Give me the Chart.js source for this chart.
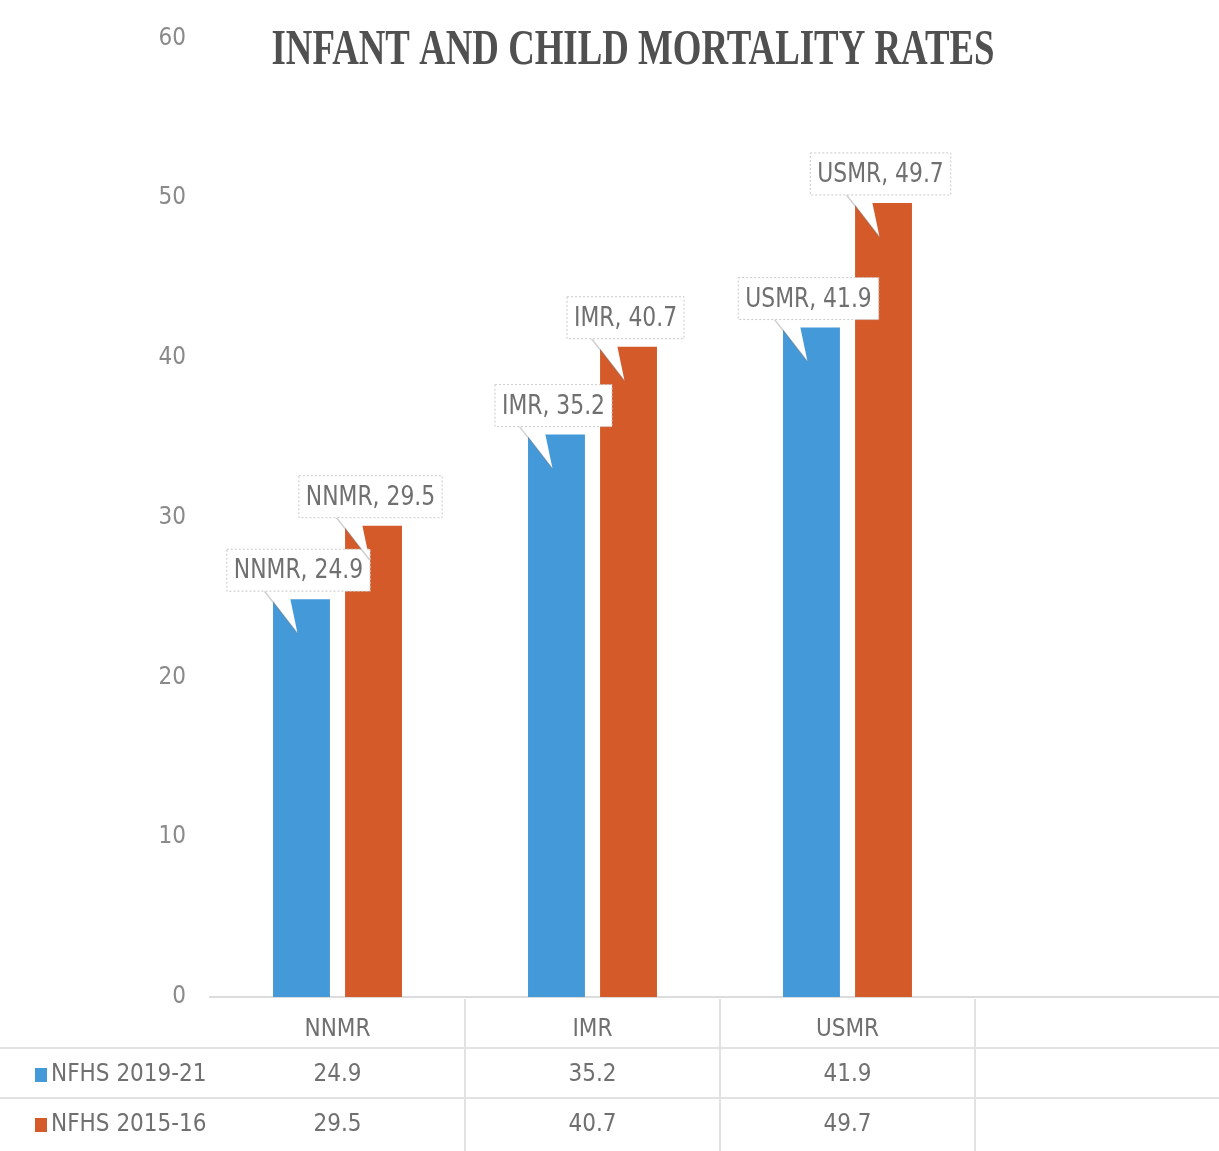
<!DOCTYPE html>
<html>
<head>
<meta charset="utf-8">
<title>Infant and Child Mortality Rates</title>
<script src="https://cdn.jsdelivr.net/npm/chart.js@4/dist/chart.umd.min.js"></script>
<style>
  html, body { margin: 0; padding: 0; background: #fff; overflow: hidden; }
  #wrap { width: 1219px; height: 1151px; overflow: hidden; position: relative; }
  #chart { display: block; }
</style>
</head>
<body>
<div id="wrap">
  <canvas id="chart" width="1232" height="1151" style="width:1232px;height:1151px"></canvas>
</div>
<script>
// data
const categories = ['NNMR', 'IMR', 'USMR', ''];
const nfhs2019 = [24.9, 35.2, 41.9, null];
const nfhs2015 = [29.5, 40.7, 49.7, null];
const seriesNames = ['NFHS 2019-21', 'NFHS 2015-16'];
const seriesColors = ['#4499d8', '#d45a2a'];
const chartTitle = 'INFANT AND CHILD MORTALITY RATES';

const narrow = "'Liberation Sans Narrow', 'DejaVu Sans Condensed', 'Roboto', sans-serif";
const textGray = '#707070';
const lineGray = '#e2e2e2';

// title, drawn squeezed like the reference
const titlePlugin = {
    id: 'titleDraw',
    afterDraw(chart) {
        const ctx = chart.ctx;
        ctx.save();
        ctx.font = "bold 50px 'Liberation Serif', 'DejaVu Serif', serif";
        ctx.fillStyle = '#505050';
        ctx.textBaseline = 'middle';
        ctx.textAlign = 'center';
        const w = ctx.measureText(chartTitle).width;
        const sx = 723 / w;
        ctx.translate(633, 51);
        ctx.scale(sx, 1);
        ctx.fillText(chartTitle, 0, 0);
        ctx.restore();
    }
};

// callout boxes above each bar
const calloutPlugin = {
    id: 'callouts',
    afterDatasetsDraw(chart) {
        const ctx = chart.ctx;
        const squeeze = 0.9;
        ctx.save();
        ctx.font = '27px ' + narrow;
        chart.data.datasets.forEach((ds, di) => {
            const meta = chart.getDatasetMeta(di);
            meta.data.forEach((bar, i) => {
                const v = ds.data[i];
                if (v === null || v === undefined) return;
                const label = categories[i] + ', ' + v.toFixed(1);
                const tw = ctx.measureText(label).width * squeeze;
                const bw = tw + 14;
                const bh = 42;
                const cx = bar.x - 3;
                const bottom = bar.y - 8;
                const top = bottom - bh;

                // tail
                ctx.beginPath();
                ctx.moveTo(cx - 34, bottom - 1);
                ctx.lineTo(cx - 10, bottom - 1);
                ctx.lineTo(cx - 1, bar.y + 34);
                ctx.closePath();
                ctx.fillStyle = '#ffffff';
                ctx.fill();
                ctx.beginPath();
                ctx.moveTo(cx - 34, bottom);
                ctx.lineTo(cx - 1, bar.y + 34);
                ctx.strokeStyle = 'rgba(120,120,120,0.35)';
                ctx.lineWidth = 1.5;
                ctx.stroke();

                // box
                ctx.fillStyle = '#ffffff';
                ctx.fillRect(cx - bw / 2, top, bw, bh);
                ctx.setLineDash([2, 2]);
                ctx.strokeStyle = '#c8c8c8';
                ctx.lineWidth = 1;
                ctx.strokeRect(cx - bw / 2, top, bw, bh);
                ctx.setLineDash([]);

                ctx.save();
                ctx.fillStyle = textGray;
                ctx.textAlign = 'center';
                ctx.textBaseline = 'middle';
                ctx.translate(cx, top + bh / 2 + 1);
                ctx.scale(squeeze, 1);
                ctx.fillText(label, 0, 0);
                ctx.restore();
            });
        });
        ctx.restore();
    }
};

// data table under the axis
const tablePlugin = {
    id: 'dataTable',
    afterDraw(chart) {
        const ctx = chart.ctx;
        const x = chart.scales.x;
        const base = chart.chartArea.bottom;
        const rowTops = [1048, 1098];
        ctx.save();
        ctx.strokeStyle = lineGray;
        ctx.lineWidth = 2;
        rowTops.forEach(y => {
            ctx.beginPath();
            ctx.moveTo(0, y);
            ctx.lineTo(chart.width, y);
            ctx.stroke();
        });
        for (let i = 1; i < categories.length; i++) {
            const lx = (x.getPixelForValue(i - 1) + x.getPixelForValue(i)) / 2;
            ctx.beginPath();
            ctx.moveTo(lx, base + 2);
            ctx.lineTo(lx, chart.height);
            ctx.stroke();
        }

        const rows = [nfhs2019, nfhs2015];
        ctx.font = '24px ' + narrow;
        ctx.textBaseline = 'middle';
        rows.forEach((vals, r) => {
            const cy = rowTops[r] + 27;
            ctx.fillStyle = seriesColors[r];
            ctx.fillRect(35, cy - 7, 12, 14);
            ctx.fillStyle = textGray;
            ctx.textAlign = 'left';
            ctx.fillText(seriesNames[r], 51, cy);
            ctx.textAlign = 'center';
            vals.forEach((v, i) => {
                if (v === null) return;
                ctx.fillText(v.toFixed(1), x.getPixelForValue(i), cy);
            });
        });
        ctx.restore();
    }
};

new Chart(document.getElementById('chart'), {
    type: 'bar',
    data: {
        labels: categories,
        datasets: [
            {
                label: seriesNames[0],
                data: nfhs2019,
                backgroundColor: seriesColors[0],
                categoryPercentage: 0.565,
                barPercentage: 0.79
            },
            {
                label: seriesNames[1],
                data: nfhs2015,
                backgroundColor: seriesColors[1],
                categoryPercentage: 0.565,
                barPercentage: 0.79
            }
        ]
    },
    options: {
        responsive: false,
        animation: false,
        devicePixelRatio: 1,
        layout: { padding: { top: 37, right: 2, left: 0, bottom: 0 } },
        plugins: {
            legend: { display: false },
            title: { display: false },
            tooltip: { enabled: false }
        },
        scales: {
            x: {
                grid: { display: false },
                border: { display: true, color: '#dcdcdc', width: 2 },
                ticks: {
                    color: textGray,
                    font: { family: narrow, size: 24 },
                    padding: 10
                },
                afterFit(scale) { scale.height = 1151 - 997; }
            },
            y: {
                min: 0,
                max: 60,
                grid: { display: false, drawTicks: false },
                border: { display: false },
                ticks: {
                    stepSize: 10,
                    color: '#8a8a8a',
                    font: { family: narrow, size: 24 },
                    padding: 24
                },
                afterFit(scale) { scale.width = 210; }
            }
        }
    },
    plugins: [titlePlugin, calloutPlugin, tablePlugin]
});
</script>
</body>
</html>
